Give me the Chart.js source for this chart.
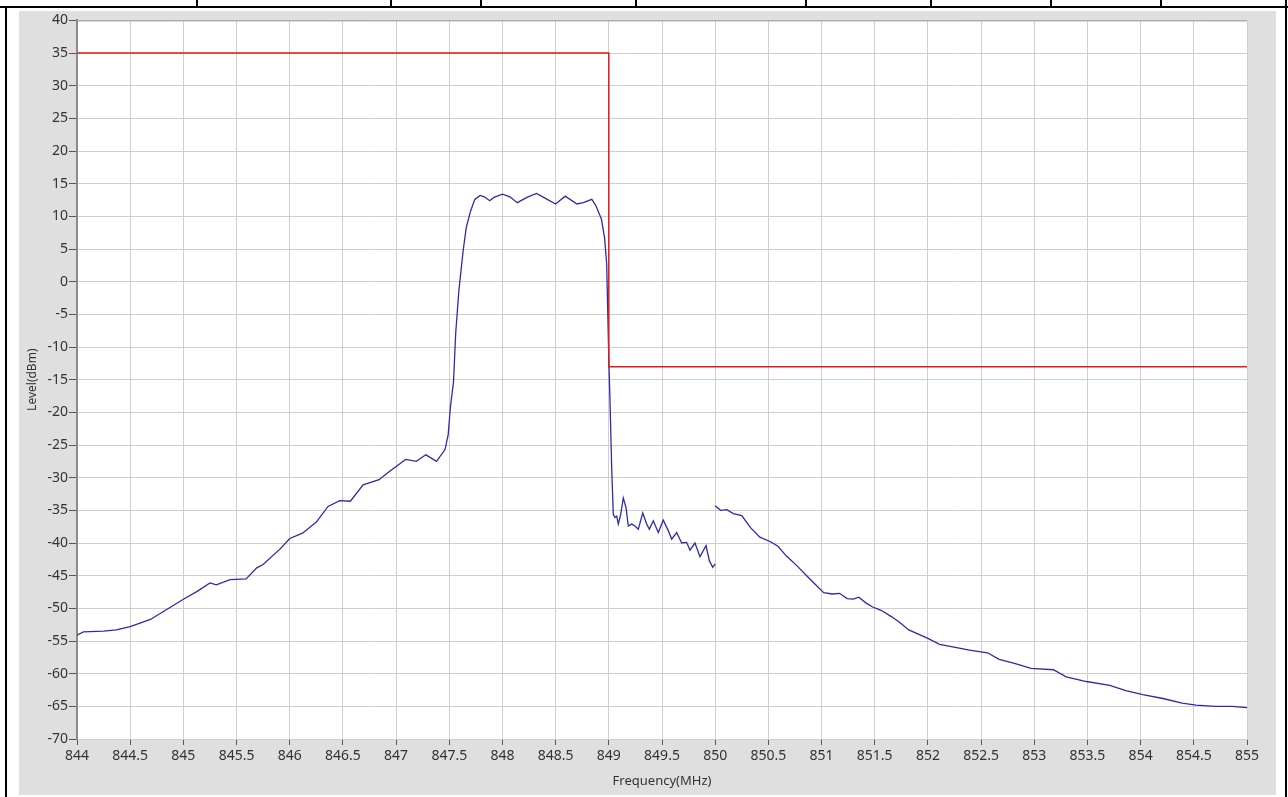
<!DOCTYPE html>
<html>
<head>
<meta charset="utf-8">
<script src="https://cdn.jsdelivr.net/npm/chart.js@4.4.1/dist/chart.umd.min.js"></script>
<style>
  html, body { margin:0; padding:0; background:#ffffff; width:1288px; height:797px; overflow:hidden; }
  .blk { position:absolute; background:#000; }
  #panel { position:absolute; left:19px; top:11px; width:1257px; height:784px; background:#dfdfdf; }
  canvas { display:block; }
</style>
</head>
<body>
<div class="blk" style="left:0;top:6px;width:1288px;height:2px;"></div>
<div class="blk" style="left:196px;top:0;width:2px;height:7px;"></div>
<div class="blk" style="left:390px;top:0;width:2px;height:7px;"></div>
<div class="blk" style="left:480px;top:0;width:2px;height:7px;"></div>
<div class="blk" style="left:635px;top:0;width:2px;height:7px;"></div>
<div class="blk" style="left:805px;top:0;width:2px;height:7px;"></div>
<div class="blk" style="left:930px;top:0;width:2px;height:7px;"></div>
<div class="blk" style="left:1050px;top:0;width:2px;height:7px;"></div>
<div class="blk" style="left:1160px;top:0;width:2px;height:7px;"></div>
<div class="blk" style="left:5px;top:6px;width:2px;height:791px;"></div>
<div class="blk" style="left:1285px;top:0;width:2px;height:797px;"></div>
<div id="panel"><canvas id="c" width="1257" height="784"></canvas></div>
<script>
// Measured trace, segment 1 (844 - 850 MHz)
const freq1 = [844.00,844.06,844.25,844.37,844.50,844.69,844.87,845.00,845.13,845.25,845.31,845.44,845.59,845.69,845.75,845.91,846.00,846.12,846.25,846.36,846.47,846.57,846.69,846.84,846.94,847.09,847.19,847.28,847.38,847.46,847.49,847.51,847.54,847.56,847.59,847.63,847.66,847.70,847.74,847.79,847.83,847.88,847.92,848.00,848.07,848.14,848.23,848.32,848.40,848.50,848.59,848.70,848.76,848.84,848.88,848.93,848.96,848.98,849.00,849.011,849.027,849.042,849.058,849.074,849.089,849.112,849.136,849.162,849.183,849.215,849.246,849.277,849.319,849.356,849.381,849.418,849.465,849.512,849.559,849.591,849.638,849.685,849.732,849.763,849.810,849.857,849.914,849.945,849.977,850.00];
const level1 = [-54.1,-53.6,-53.5,-53.3,-52.8,-51.7,-49.9,-48.6,-47.4,-46.1,-46.4,-45.6,-45.5,-43.8,-43.3,-40.9,-39.3,-38.5,-36.8,-34.4,-33.5,-33.6,-31.1,-30.3,-29.0,-27.2,-27.5,-26.5,-27.5,-25.7,-23.4,-19.3,-15.3,-8.0,-1.4,4.7,8.3,10.8,12.6,13.2,13.0,12.4,12.9,13.4,13.0,12.1,12.9,13.5,12.8,11.9,13.1,11.9,12.1,12.6,11.6,9.6,6.7,2.7,-12.0,-18.2,-28.5,-35.6,-36.1,-35.9,-37.1,-35.6,-33.1,-34.6,-37.4,-37.1,-37.4,-37.9,-35.4,-37.1,-37.9,-36.6,-38.4,-36.5,-38.1,-39.4,-38.4,-40.0,-39.9,-41.1,-40.0,-42.1,-40.4,-42.7,-43.7,-43.2];
// Measured trace, segment 2 (850 - 855 MHz)
const freq2 = [850.00,850.05,850.11,850.17,850.25,850.33,850.42,850.52,850.59,850.67,850.77,850.86,850.94,851.02,851.10,851.17,851.24,851.30,851.35,851.42,851.48,851.56,851.66,851.73,851.82,852.00,852.11,852.27,852.39,852.56,852.67,852.83,852.97,853.18,853.30,853.49,853.71,853.86,854.02,854.21,854.39,854.52,854.70,854.86,855.00];
const level2 = [-34.3,-35.0,-34.9,-35.5,-35.8,-37.6,-39.1,-39.8,-40.5,-42.0,-43.5,-45.0,-46.3,-47.6,-47.8,-47.7,-48.5,-48.6,-48.3,-49.2,-49.8,-50.3,-51.3,-52.1,-53.3,-54.6,-55.5,-56.0,-56.4,-56.8,-57.8,-58.5,-59.2,-59.4,-60.5,-61.2,-61.8,-62.6,-63.2,-63.8,-64.5,-64.8,-65.0,-65.0,-65.2];
// Limit mask
const limitFreq = [844, 849, 849, 855];
const limitLevel = [35, 35, -13, -13];
// Axis ticks
const xTicks = [844,844.5,845,845.5,846,846.5,847,847.5,848,848.5,849,849.5,850,850.5,851,851.5,852,852.5,853,853.5,854,854.5,855];
const yTicks = [40,35,30,25,20,15,10,5,0,-5,-10,-15,-20,-25,-30,-35,-40,-45,-50,-55,-60,-65,-70];

const pts = (xs, ys) => xs.map((x, i) => ({x: x, y: ys[i]}));

const plotBg = {
  id: 'plotBg',
  beforeDraw(chart) {
    const {ctx, chartArea: a} = chart;
    ctx.save();
    ctx.fillStyle = '#ffffff';
    ctx.fillRect(a.left, a.top, a.right - a.left, a.bottom - a.top);
    ctx.restore();
  },
  afterDatasetsDraw(chart) {
    const {ctx, chartArea: a} = chart;
    ctx.save();
    ctx.strokeStyle = '#9a9a9a';
    ctx.lineWidth = 1;
    ctx.beginPath();
    ctx.moveTo(a.left, a.top + 0.5);
    ctx.lineTo(a.right, a.top + 0.5);
    ctx.stroke();
    ctx.restore();
  }
};

const FONT = '"Noto Sans", "DejaVu Sans", sans-serif';

new Chart(document.getElementById('c'), {
  type: 'line',
  data: {
    datasets: [
      { data: pts(freq1, level1), borderColor: '#2c2ca8', borderWidth: 1.3, pointRadius: 0, tension: 0, order: 2 },
      { data: pts(freq2, level2), borderColor: '#2c2ca8', borderWidth: 1.3, pointRadius: 0, tension: 0, order: 2 },
      { data: pts(limitFreq, limitLevel), borderColor: '#e01818', borderWidth: 1.5, pointRadius: 0, tension: 0, order: 1 }
    ]
  },
  options: {
    responsive: false,
    animation: false,
    events: [],
    layout: { padding: { top: 8, right: 29, left: 0, bottom: 0 } },
    plugins: { legend: { display: false }, tooltip: { enabled: false } },
    scales: {
      x: {
        type: 'linear',
        min: 844, max: 855,
        afterFit(s) { s.height = 56; },
        afterBuildTicks(s) { s.ticks = xTicks.map(v => ({value: v})); },
        ticks: {
          autoSkip: false, maxRotation: 0, padding: 3,
          color: '#333333', font: { family: FONT, size: 14 },
          callback: v => String(v)
        },
        grid: { color: '#cfcfcf', tickColor: '#555555', tickLength: 6, lineWidth: 1 },
        border: { display: true, color: '#cfcfcf' },
        title: { display: true, text: 'Frequency(MHz)', color: '#333333', font: { family: FONT, size: 13 }, padding: { top: 0, bottom: 6 } }
      },
      y: {
        type: 'linear',
        min: -70, max: 40,
        afterFit(s) { s.width = 58; },
        afterBuildTicks(s) { s.ticks = yTicks.map(v => ({value: v})); },
        ticks: {
          autoSkip: false, padding: 1,
          color: '#333333', font: { family: FONT, size: 14 },
          callback: v => String(v)
        },
        grid: { color: '#cfcfcf', tickColor: '#555555', tickLength: 8, lineWidth: 1 },
        border: { display: true, color: '#8a8a8a', width: 2 },
        title: { display: true, text: 'Level(dBm)', color: '#333333', font: { family: FONT, size: 12 }, padding: { top: 6, bottom: 0 } }
      }
    }
  },
  plugins: [plotBg]
});
</script>
</body>
</html>
